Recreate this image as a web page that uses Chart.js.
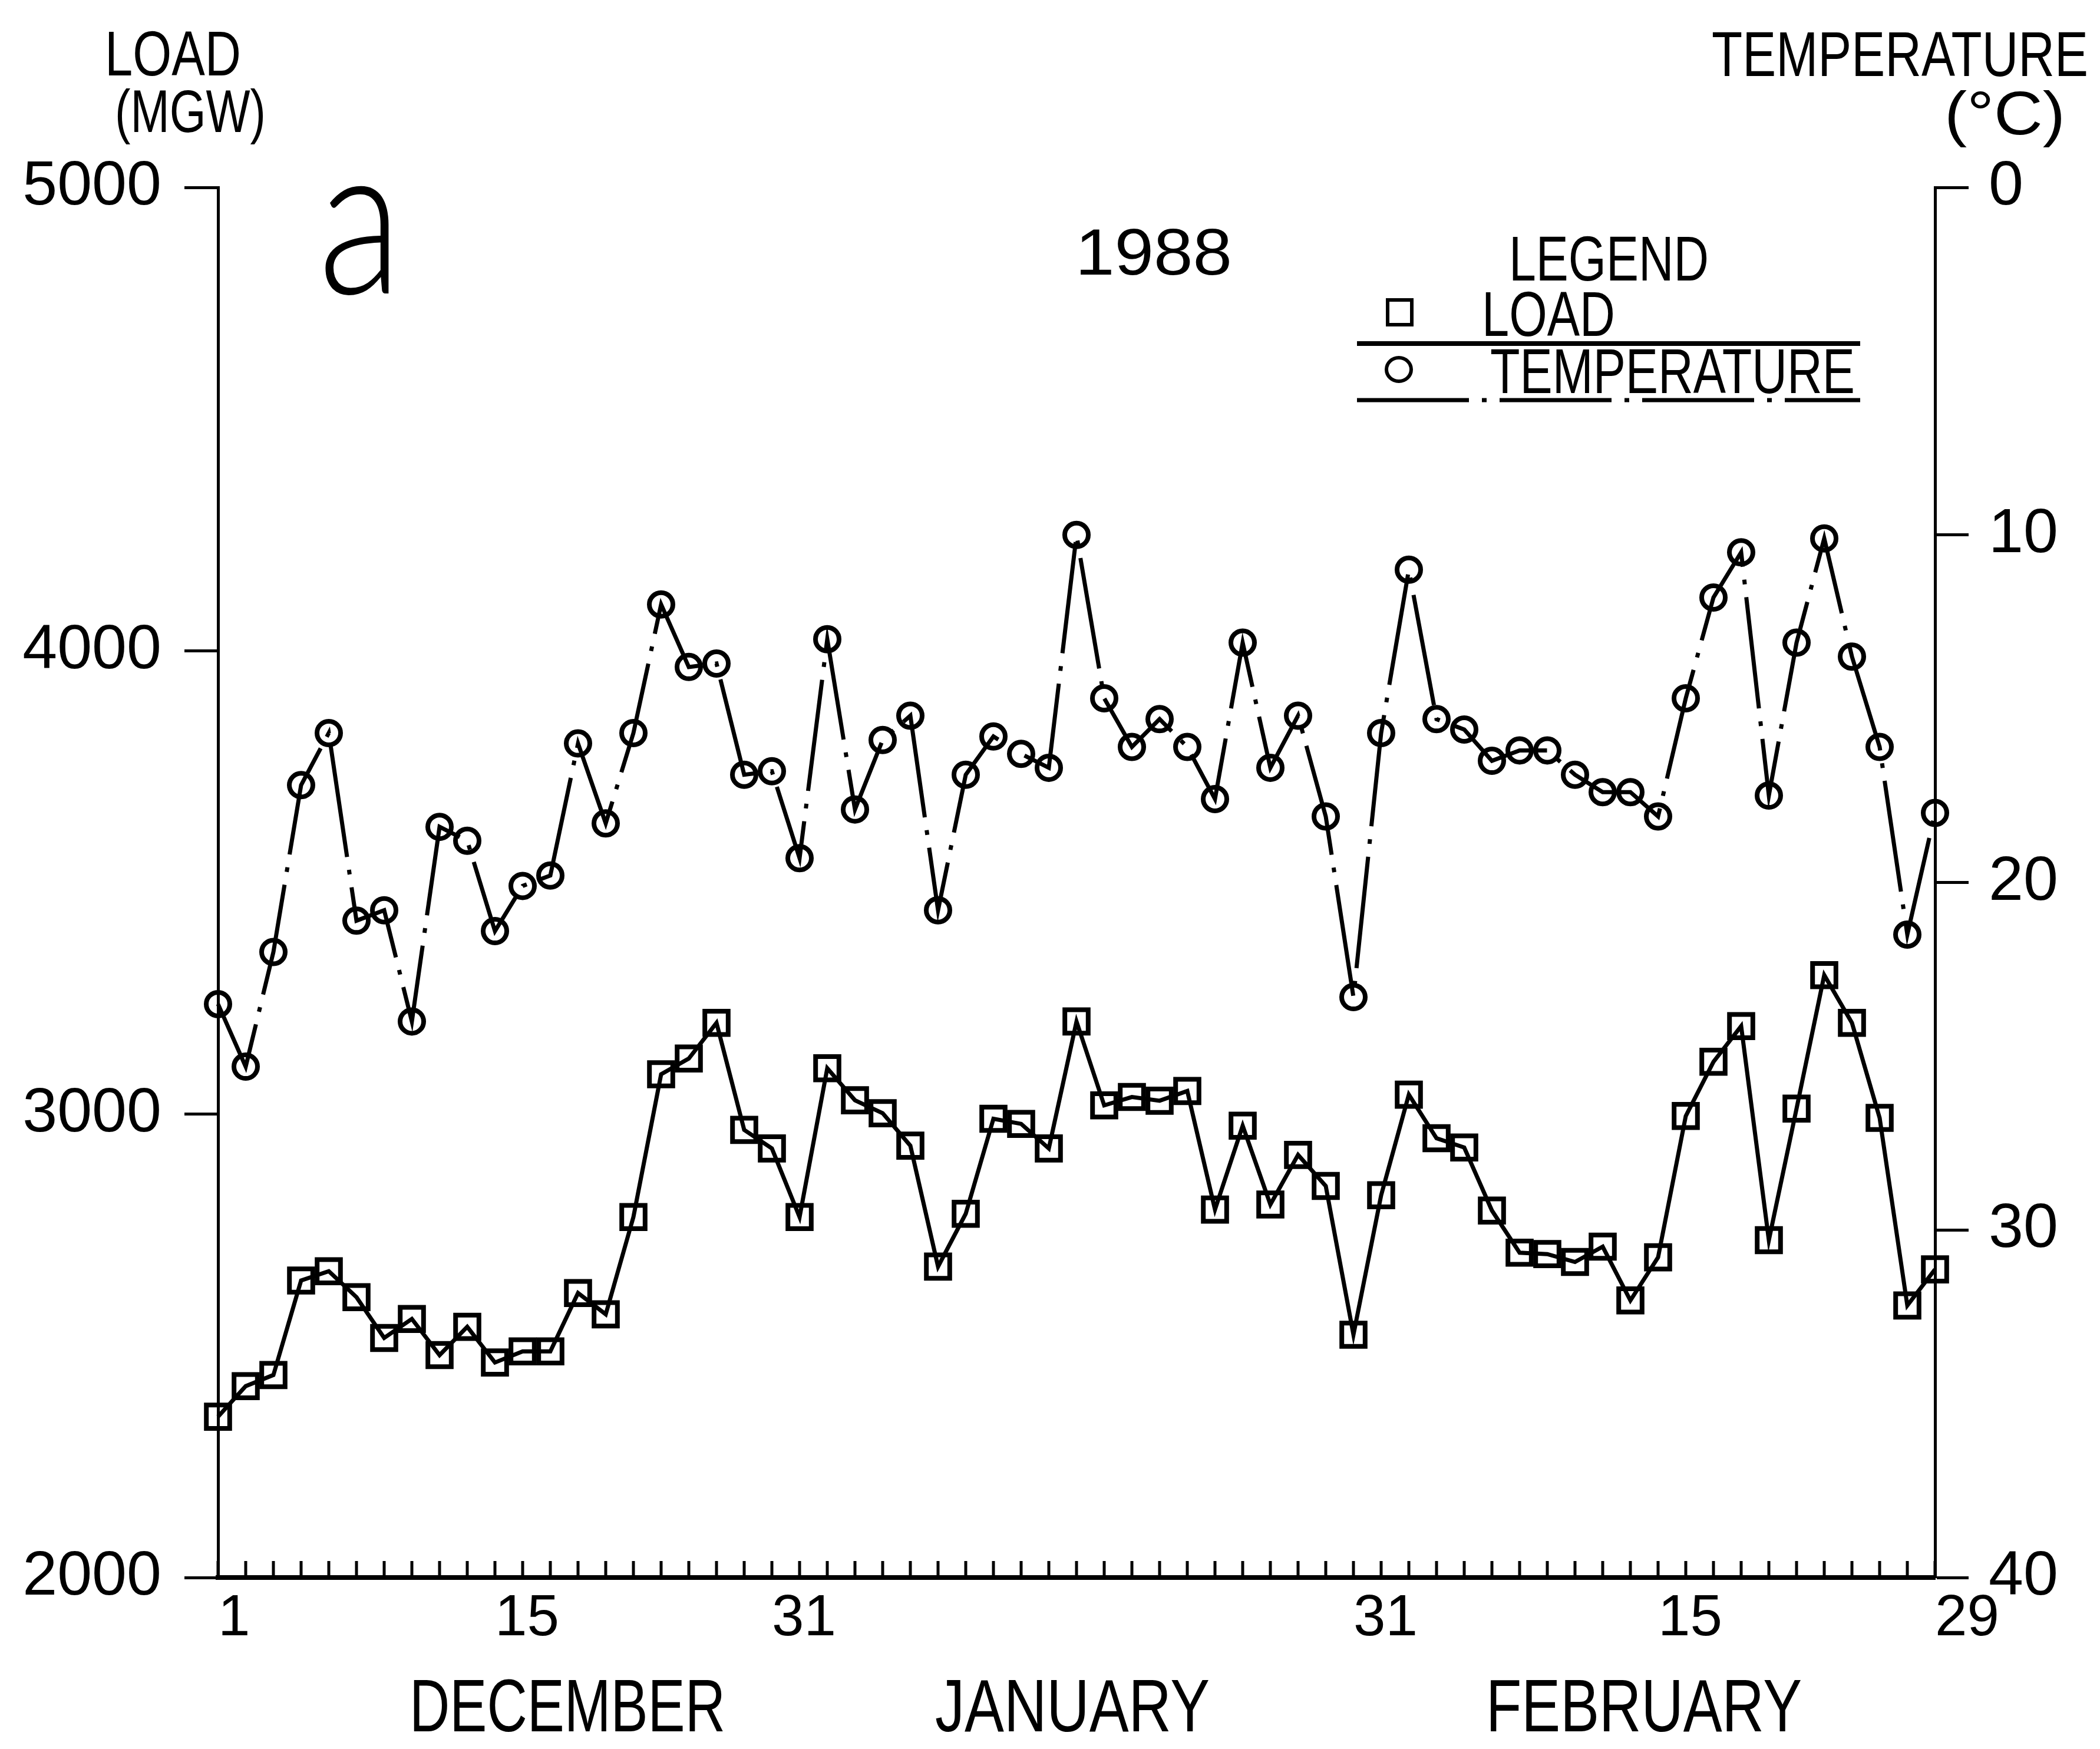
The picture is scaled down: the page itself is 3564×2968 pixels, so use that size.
<!DOCTYPE html>
<html>
<head>
<meta charset="utf-8">
<script src="https://cdn.jsdelivr.net/npm/chart.js@4.4.1/dist/chart.umd.min.js"></script>
<style>
  html, body { margin: 0; padding: 0; background: #fff; }
  #wrap { width: 3564px; height: 2968px; }
</style>
</head>
<body>
<div id="wrap"><canvas id="c" width="3564" height="2968"></canvas></div>
<script>
// Daily peak load (MGW), one value per plotted day, Dec 1987 – Feb 1988
const loadMGW = [
  2347, 2413, 2437, 2641, 2661, 2605, 2517, 2558, 2480, 2541,
  2464, 2488, 2488, 2614, 2568, 2778, 3086, 3120, 3197, 2966,
  2926, 2778, 3099, 3030, 3002, 2932, 2671, 2785, 2990, 2979,
  2926, 3200, 3019, 3037, 3029, 3050, 2794, 2975, 2805, 2912,
  2845, 2524, 2825, 3042, 2948, 2928, 2792, 2701, 2698, 2681,
  2714, 2598, 2691, 2996, 3113, 3190, 2728, 3012, 3300, 3197,
  2992, 2587, 2665
];

// Daily temperature (°C) on the same days, plotted on the inverted right axis
const tempC = [
  23.5, 25.3, 22.0, 17.2, 15.7, 21.1, 20.8, 24.0, 18.4, 18.8,
  21.4, 20.1, 19.8, 16.0, 18.3, 15.7, 12.0, 13.8, 13.7, 16.9,
  16.8, 19.3, 13.0, 17.9, 15.9, 15.2, 20.8, 16.9, 15.8, 16.3,
  16.7, 10.0, 14.7, 16.1, 15.3, 16.1, 17.6, 13.1, 16.7, 15.2,
  18.1, 23.3, 15.7, 11.0, 15.3, 15.6, 16.5, 16.2, 16.2, 16.9,
  17.4, 17.4, 18.1, 14.7, 11.8, 10.5, 17.5, 13.1, 10.1, 13.5,
  16.1, 21.5, 18.0
];

// Day-of-month labels shown under the time axis and the point they sit at
const dayTickLabels = ['1', '15', '31', '31', '15', '29'];
const dayTickIndex  = [0, 10, 20, 41, 52, 62];

// Month names written under the day labels
const monthNames = ['DECEMBER', 'JANUARY', 'FEBRUARY'];

// Axis ranges
const loadTicks = [2000, 3000, 4000, 5000];
const tempTicks = [0, 10, 20, 30, 40];

// Category list: one slot per plotted day, labelled only at the marked days
const categories = loadMGW.map(() => '');
dayTickIndex.forEach((idx, k) => { categories[idx] = dayTickLabels[k]; });

const FONT = "'Liberation Sans', Arial, sans-serif";
const INK = '#000';

// Draws a string squeezed or stretched horizontally to a given width
function fitText(c, s, x, y, size, align, width, family, weight) {
  c.save();
  c.font = `${weight || 'normal'} ${size}px ${family || FONT}`;
  const w = c.measureText(s).width;
  const sx = width ? width / w : 1;
  c.translate(x, y);
  c.scale(sx, 1);
  c.textAlign = align;
  c.textBaseline = 'alphabetic';
  c.fillStyle = INK;
  c.fillText(s, 0, 0);
  c.restore();
}

const paperPlugin = {
  id: 'paper',
  beforeDraw(chart) {
    const c = chart.ctx;
    c.save();
    c.fillStyle = '#fff';
    c.fillRect(0, 0, chart.width, chart.height);
    c.restore();
  },
  afterDraw(chart) {
    const c = chart.ctx;
    const xs = chart.scales.x;
    const bottom = chart.chartArea.bottom;

    // small inward tick for every plotted day
    c.save();
    c.strokeStyle = INK;
    c.lineWidth = 5;
    c.beginPath();
    for (let i = 0; i < categories.length; i++) {
      const px = Math.round(xs.getPixelForValue(i));
      c.moveTo(px, bottom);
      c.lineTo(px, bottom - 28);
    }
    c.stroke();
    c.restore();

    // axis titles
    fitText(c, 'LOAD', 178, 128, 107, 'left', 231);
    fitText(c, '(MGW)', 195, 224, 102, 'left', 256);
    fitText(c, 'TEMPERATURE', 2905, 129, 107, 'left', 639);
    fitText(c, '(°C)', 3300, 228, 104, 'left', 205);

    // panel letter and year
    fitText(c, 'a', 540, 498, 360, 'left', 142, "Lato, 'Open Sans', sans-serif", '300');
    fitText(c, '1988', 1825, 466, 112, 'left', 266);

    // month names
    const monthCenters = [963, 1820, 2790];
    const monthWidths = [536, 466, 536];
    monthNames.forEach((m, k) => fitText(c, m, monthCenters[k], 2938, 126, 'center', monthWidths[k]));

    // legend block
    const ds = chart.data.datasets;
    fitText(c, 'LEGEND', 2561, 476, 107, 'left', 339);
    const rows = [
      { y: 530, textY: 570, textX: 2515, textW: 226, lineY: 583, lineW: 8 },
      { y: 627, textY: 667, textX: 2529, textW: 619, lineY: 679, lineW: 7 }
    ];
    ds.forEach((d, k) => {
      const r = rows[k];
      c.save();
      c.strokeStyle = INK;
      c.lineWidth = 6;
      if (d.pointStyle === 'rect') {
        c.strokeRect(2355, r.y - 21, 41, 42);
      } else {
        c.beginPath();
        c.ellipse(2374, r.y, 21, 20, 0, 0, Math.PI * 2);
        c.stroke();
      }
      c.restore();
      fitText(c, d.label, r.textX, r.textY, 107, 'left', r.textW);
      c.save();
      c.strokeStyle = INK;
      c.lineWidth = r.lineW;
      c.setLineDash(d.borderDash || []);
      c.beginPath();
      c.moveTo(2303, r.lineY);
      c.lineTo(3157, r.lineY);
      c.stroke();
      c.restore();
    });
  }
};

const tickFont = { family: FONT, size: 106 };
const plainNumber = v => String(v);

new Chart(document.getElementById('c'), {
  type: 'line',
  data: {
    labels: categories,
    datasets: [
      {
        label: 'LOAD',
        data: loadMGW,
        yAxisID: 'yLoad',
        borderColor: INK,
        borderWidth: 7,
        tension: 0,
        pointStyle: 'rect',
        pointRadius: 28,
        pointBorderWidth: 8,
        pointBorderColor: INK,
        pointBackgroundColor: 'rgba(0,0,0,0)',
        clip: false
      },
      {
        label: 'TEMPERATURE',
        data: tempC,
        yAxisID: 'yTemp',
        borderColor: INK,
        borderWidth: 7,
        borderDash: [190, 22, 8, 22],
        tension: 0,
        pointStyle: 'circle',
        pointRadius: 20,
        pointBorderWidth: 8,
        pointBorderColor: INK,
        pointBackgroundColor: 'rgba(0,0,0,0)',
        clip: false
      }
    ]
  },
  options: {
    responsive: false,
    animation: false,
    devicePixelRatio: 1,
    layout: { padding: { top: 318, left: 0, right: 0, bottom: 0 } },
    plugins: {
      legend: { display: false },
      tooltip: { enabled: false },
      title: { display: false }
    },
    scales: {
      x: {
        type: 'category',
        offset: false,
        grid: { display: false, drawTicks: false },
        border: { display: true, width: 8, color: INK },
        ticks: {
          autoSkip: false,
          maxRotation: 0,
          minRotation: 0,
          align: 'start',
          padding: 12,
          color: INK,
          font: { family: FONT, size: 98 }
        },
        afterFit(s) { s.height = 291; }
      },
      yLoad: {
        position: 'left',
        min: loadTicks[0],
        max: loadTicks[loadTicks.length - 1],
        afterBuildTicks(s) { s.ticks = loadTicks.map(v => ({ value: v })); },
        ticks: { padding: 39, color: INK, font: tickFont, callback: plainNumber },
        grid: { drawOnChartArea: false, drawTicks: true, tickLength: 57, tickWidth: 5, tickColor: INK },
        border: { display: true, width: 5, color: INK },
        afterFit(s) { s.width = 370; }
      },
      yTemp: {
        position: 'right',
        reverse: true,
        min: tempTicks[0],
        max: tempTicks[tempTicks.length - 1],
        afterBuildTicks(s) { s.ticks = tempTicks.map(v => ({ value: v })); },
        ticks: { padding: 34, color: INK, font: tickFont, callback: plainNumber },
        grid: { drawOnChartArea: false, drawTicks: true, tickLength: 57, tickWidth: 5, tickColor: INK },
        border: { display: true, width: 5, color: INK },
        afterFit(s) { s.width = 280; }
      }
    }
  },
  plugins: [paperPlugin]
});
</script>
</body>
</html>
